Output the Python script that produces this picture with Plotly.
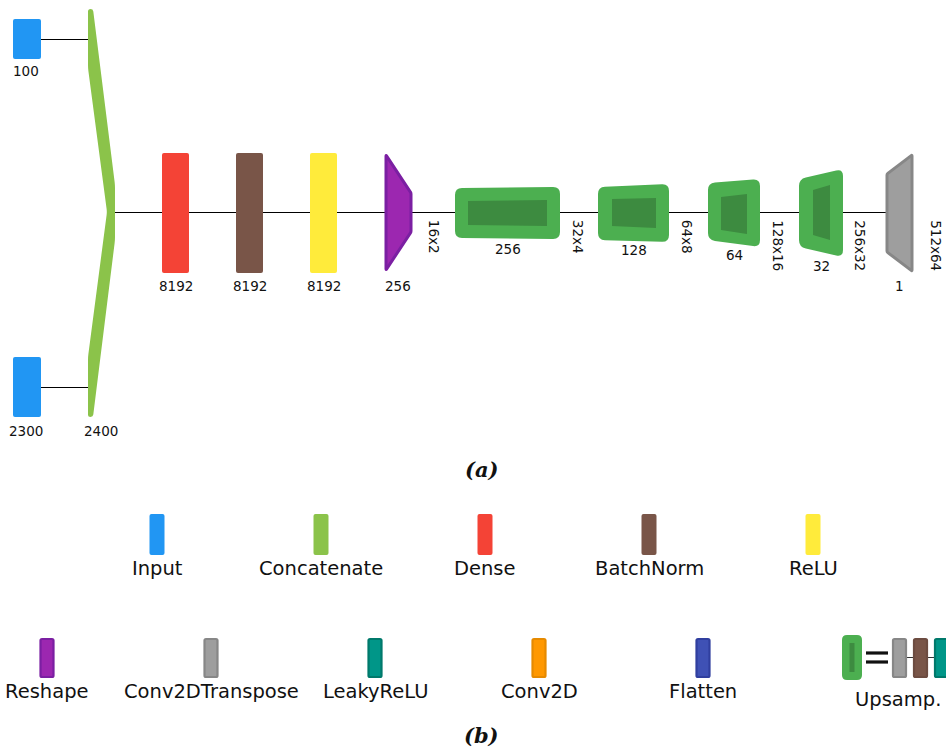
import math
import plotly.graph_objects as go

# ---- network description -------------------------------------------------
INPUT_SIZES = ["100", "2300"]
CONCAT_SIZE = "2400"
DENSE_STACK = ["Dense", "BatchNorm", "ReLU"]
DENSE_UNITS = ["8192", "8192", "8192"]
RESHAPE_UNITS = "256"
UPSAMPLE_FILTERS = ["256", "128", "64", "32"]
FEATURE_MAPS = ["16x2", "32x4", "64x8", "128x16", "256x32", "512x64"]
OUTPUT_FILTERS = "1"

LEGEND_ROW1 = ["Input", "Concatenate", "Dense", "BatchNorm", "ReLU"]
LEGEND_ROW2 = ["Reshape", "Conv2DTranspose", "LeakyReLU", "Conv2D", "Flatten"]
UPSAMPLE_NAME = "Upsamp."

# ---- styling ---------------------------------------------------------------
FILL = {
    "Input": "#2196F3", "Concatenate": "#8BC34A", "Dense": "#F44336",
    "BatchNorm": "#795548", "ReLU": "#FFEB3B", "Reshape": "#9C27B0",
    "Conv2DTranspose": "#9E9E9E", "LeakyReLU": "#009688", "Conv2D": "#FF9800",
    "Flatten": "#3F51B5", "Upsamp.": "#4CAF50",
}
EDGE = {
    "Reshape": "#7B1FA2", "Conv2DTranspose": "#878787", "LeakyReLU": "#00796B",
    "Conv2D": "#E68A00", "Flatten": "#303F9F", "BatchNorm": "#6D4C41",
}
UP_INNER = "#3D8B40"
TXT = "#111111"
FONT = "DejaVu Sans"

W, H = 946, 749
shapes = []
annotations = []


def rounded_path(pts, r):
    """SVG path of a closed polygon with corners rounded by quadratic curves."""
    n = len(pts)
    out = []
    for i in range(n):
        p0, p1, p2 = pts[i - 1], pts[i], pts[(i + 1) % n]
        d1 = math.dist(p1, p0)
        d2 = math.dist(p1, p2)
        rr = min(r, d1 / 2, d2 / 2)
        a = (p1[0] + (p0[0] - p1[0]) * rr / d1, p1[1] + (p0[1] - p1[1]) * rr / d1)
        b = (p1[0] + (p2[0] - p1[0]) * rr / d2, p1[1] + (p2[1] - p1[1]) * rr / d2)
        out.append(("M" if i == 0 else "L") + f"{a[0]:.2f},{a[1]:.2f}")
        out.append(f"Q{p1[0]:.2f},{p1[1]:.2f} {b[0]:.2f},{b[1]:.2f}")
    return "".join(out) + "Z"


def poly(pts, fill, r=0, edge=None, lw=0):
    shapes.append(dict(
        type="path", xref="x", yref="y", path=rounded_path(pts, r) if r else
        "M" + "L".join(f"{x},{y}" for x, y in pts) + "Z",
        fillcolor=fill, line=dict(color=edge or fill, width=lw if edge else 0),
        layer="above"))


def box(x0, y0, x1, y1, fill, r=2, edge=None, lw=0):
    poly([(x0, y0), (x1, y0), (x1, y1), (x0, y1)], fill, r, edge, lw)


def seg(x0, y0, x1, y1, width=1, color="#000000"):
    shapes.append(dict(type="line", xref="x", yref="y", x0=x0, y0=y0, x1=x1,
                       y1=y1, line=dict(color=color, width=width), layer="above"))


def text(x, y, s, size=13.5, angle=0, font=FONT, color=TXT):
    annotations.append(dict(x=x, y=y, xref="x", yref="y", text=s, showarrow=False,
                            textangle=angle, xanchor="center", yanchor="middle",
                            font=dict(family=font, size=size, color=color)))


# ---- (a) generator architecture ---------------------------------------------
AXIS_Y = 212
seg(115, AXIS_Y + 0.5, 887, AXIS_Y + 0.5)

# two inputs feeding the concatenation
input_rows = [(19, 59, 39, 71), (357, 417, 387, 431)]
for (y0, y1, yl, ylab), lab in zip(input_rows, INPUT_SIZES):
    seg(41, yl + 0.5, 88, yl + 0.5)
    box(13, y0, 41, y1, FILL["Input"], r=2)
    text(26, ylab, lab)

poly([(88, 9), (93, 9), (115, 185), (115, 240), (93, 417), (88, 417),
      (88, 357), (107, AXIS_Y), (88, 68)], FILL["Concatenate"], r=3)
text(101, 431, CONCAT_SIZE)

# dense / batchnorm / relu stack
for name, units, x0 in zip(DENSE_STACK, DENSE_UNITS, [162, 236, 310]):
    box(x0, 153, x0 + 27, 273, FILL[name], r=2)
    text(x0 + 14, 286, units)

# reshape
poly([(386, 155), (411, 193), (411, 232), (386, 270)], FILL["Reshape"],
     r=1, edge=EDGE["Reshape"], lw=3)
text(398, 286, RESHAPE_UNITS)

# upsampling blocks: outer quad (left x, left top/bottom, right x, right top/bottom)
UP_OUTER = [
    (455, 188, 238, 560, 187, 239),
    (598, 187, 240, 669, 184, 242),
    (708, 183, 240, 760, 179, 247),
    (799, 179, 247, 843, 169, 257),
]
UP_CORE = [
    (468, 201, 225, 547, 200, 226),
    (612, 199, 226, 656, 198, 228),
    (721, 197, 230, 747, 194, 234),
    (813, 190, 235, 830, 185, 240),
]
UP_LABEL_Y = [249, 250, 255, 266]
for (lx, lt, lb, rx, rt, rb), (ix, it, ib, jx, jt, jb), filt, ly in zip(
        UP_OUTER, UP_CORE, UPSAMPLE_FILTERS, UP_LABEL_Y):
    poly([(lx, lt), (rx, rt), (rx, rb), (lx, lb)], FILL["Upsamp."], r=7)
    poly([(ix, it), (jx, jt), (jx, jb), (ix, ib)], UP_INNER)
    text((lx + rx) / 2, ly, filt)

# final transposed convolution
poly([(887, 174), (912, 155), (912, 271), (887, 252)], FILL["Conv2DTranspose"],
     r=1, edge=EDGE["Conv2DTranspose"], lw=3)
text(899, 286, OUTPUT_FILTERS)

# feature map sizes, written vertically between the blocks
for fm, x in zip(FEATURE_MAPS, [434, 578, 687, 778, 860, 936]):
    text(x, 220 + len(fm) * 8.4 / 2, fm, angle=90)

text(481, 469, "<b><i>(a)</i></b>", size=21, font="DejaVu Serif")

# ---- (b) legend -------------------------------------------------------------
ROW1_X = [157, 321, 485, 649, 813]
for name, x in zip(LEGEND_ROW1, ROW1_X):
    box(x - 7.5, 514, x + 7.5, 555, FILL[name], r=2)
    text(x, 568, name, size=19.5)

ROW2_X = [47, 211, 375, 539, 703]
for name, x in zip(LEGEND_ROW2, ROW2_X):
    box(x - 6.5, 639, x + 6.5, 677, FILL[name], r=1.5, edge=EDGE[name], lw=2.2)
    text(x, 691, name, size=19.5)

# upsampling block = Conv2DTranspose + BatchNorm + LeakyReLU
box(842, 635, 862, 680, FILL["Upsamp."], r=5)
box(849.5, 643, 854.5, 672, UP_INNER, r=0)
seg(866, 653, 888, 653, width=3.2, color="#111111")
seg(866, 662, 888, 662, width=3.2, color="#111111")
seg(906, 657.5, 935, 657.5, width=1, color="#333333")
for name, x0 in zip(["Conv2DTranspose", "BatchNorm", "LeakyReLU"], [893, 914, 935]):
    box(x0, 639, x0 + 13, 677, FILL[name], r=1.5, edge=EDGE[name], lw=2.2)
text(898, 699, UPSAMPLE_NAME, size=19.5)

text(481, 735, "<b><i>(b)</i></b>", size=21, font="DejaVu Serif")

fig = go.Figure()
fig.update_layout(
    width=W, height=H, margin=dict(l=0, r=0, t=0, b=0),
    paper_bgcolor="white", plot_bgcolor="white",
    xaxis=dict(range=[0, W], visible=False, fixedrange=True),
    yaxis=dict(range=[H, 0], visible=False, fixedrange=True),
    shapes=shapes, annotations=annotations, showlegend=False,
)
fig.write_html("out.html")
